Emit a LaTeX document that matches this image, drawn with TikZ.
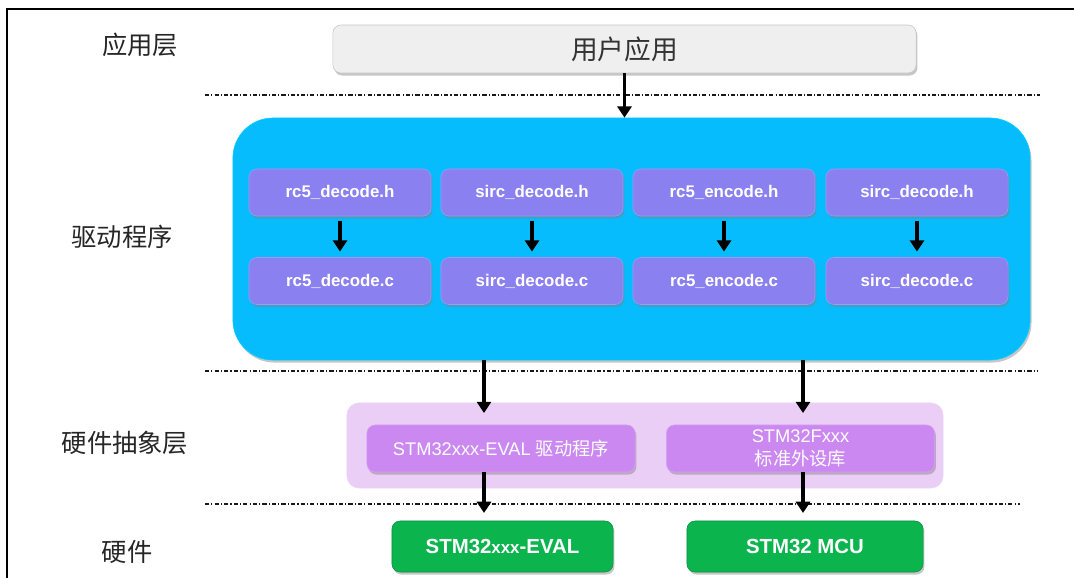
\documentclass[tikz,border=0pt]{standalone}
\usepackage{fontspec}
\setmainfont{Liberation Sans}
\newfontfamily\cjk{Noto Sans CJK SC}
\usetikzlibrary{calc,shadows,arrows.meta}
\definecolor{appgray}{RGB}{239,239,239}
\definecolor{drvblue}{RGB}{6,188,253}
\definecolor{filepurple}{RGB}{138,128,240}
\definecolor{halouter}{RGB}{234,206,246}
\definecolor{halinner}{RGB}{202,136,240}
\definecolor{hwgreen}{RGB}{12,180,78}
\tikzset{
  boxshadow/.style={drop shadow={opacity=0.45,shadow xshift=1pt,shadow yshift=-1.8pt}},
  layerlabel/.style={font=\cjk\fontsize{18}{20}\selectfont,text=black!85},
  filebox/.style={rounded corners=0.2cm,fill=filepurple,draw=filepurple!80!white,boxshadow,
    minimum width=4.55cm,minimum height=1.175cm,inner sep=0pt,
    text=white,font=\bfseries\fontsize{12}{14}\selectfont},
  halbox/.style={rounded corners=0.2cm,fill=halinner,draw=halinner!80!white,boxshadow,
    minimum width=6.7cm,minimum height=1.175cm,inner sep=0pt,align=center,
    text=white,font=\fontsize{13}{16}\selectfont},
  hwbox/.style={rounded corners=0.2cm,fill=hwgreen,draw=hwgreen!80!black,boxshadow,
    minimum height=1.275cm,inner sep=0pt,
    text=white,font=\bfseries\fontsize{14.5}{16}\selectfont},
  flow/.style={line width=2.2pt,-{Triangle[width=10pt,length=8pt]}},
  sepline/.style={line width=0.75pt,black!90,dash pattern=on 3pt off 1.5pt on 0.8pt off 1.5pt}
}
\def\drawsep{\draw[sepline]}
\def\layername{\node[layerlabel]}
\def\filenode{\node[filebox]}

\begin{document}
\begin{tikzpicture}[x=0.025cm,y=-0.025cm]
\useasboundingbox (0,0) rectangle (1074,578);
\draw[line width=1.6pt] (7,578) -- (7,9) -- (1074,9); % frame

% ---------- layer names on the left
\layername (lapp) at (140,45) {应用层};
\layername (ldrv) at (122,237) {驱动程序};
\layername (lhal) at (125,443) {硬件抽象层};
\layername (lhw) at (127,552) {硬件};

% ---------- separators
\drawsep (205,95) -- (1040,95);
\drawsep (205,371) -- (1038,371);
\drawsep (205,504) -- (1020,504);

% ---------- application
\node[rounded corners=0.2cm,fill=appgray,draw=black!22,boxshadow,
  minimum width=14.575cm,minimum height=1.2cm,inner sep=0pt,
  text=black!80,font=\cjk\fontsize{19}{20}\selectfont] (app) at (624.5,49) {用户应用};

% ---------- driver layer
\node[rounded corners=1cm,fill=drvblue,draw=drvblue!70!cyan,boxshadow,
  minimum width=19.925cm,minimum height=6.05cm] (drv) at (631.5,239) {};
\filenode (rcdh) at (340,192.5) {rc5\_decode.h};
\filenode (sidh) at (532,192.5) {sirc\_decode.h};
\filenode (rceh) at (724,192.5) {rc5\_encode.h};
\filenode (sidh2) at (917,192.5) {sirc\_decode.h};
\filenode (rcdc) at (340,281) {rc5\_decode.c};
\filenode (sidc) at (532,281) {sirc\_decode.c};
\filenode (rcec) at (724,281) {rc5\_encode.c};
\filenode (sidc2) at (917,281) {sirc\_decode.c};
\foreach \h/\c in {rcdh/rcdc,sidh/sidc,rceh/rcec,sidh2/sidc2}
  \draw[flow,shorten <=3pt,shorten >=4pt] (\h.south) -- (\c.north);

% ---------- hardware abstraction layer
\node[rounded corners=0.3cm,fill=halouter,draw=halouter!90!white,
  minimum width=14.9cm,minimum height=2.125cm] (hal) at (645,445.5) {};
\node[halbox] (evaldrv) at (501,448.5) {STM32xxx-EVAL {\cjk 驱动程序}};
\node[halbox] (stdlib) at (800.5,448.5) {STM32Fxxx\\{\cjk 标准外设库}};

% ---------- hardware
\node[hwbox,minimum width=5.525cm] (eval) at (502.5,546.5)
  {STM32{\fontsize{12}{14}\selectfont xxx}-EVAL};
\node[hwbox,minimum width=5.9cm] (mcu) at (805,546.5) {STM32 MCU};

% ---------- arrows between layers
\coordinate (tl) at (484,413);
\coordinate (tr) at (803,413);
\draw[flow] (app.south) -- (drv.north -| app.south);
\draw[flow] (drv.south -| tl) -- (tl);
\draw[flow] (drv.south -| tr) -- (tr);
\draw[flow,shorten >=5.5pt] (evaldrv.south -| tl) -- (eval.north -| tl);
\draw[flow,shorten >=5.5pt] (stdlib.south -| tr) -- (mcu.north -| tr);
\end{tikzpicture}
\end{document}
